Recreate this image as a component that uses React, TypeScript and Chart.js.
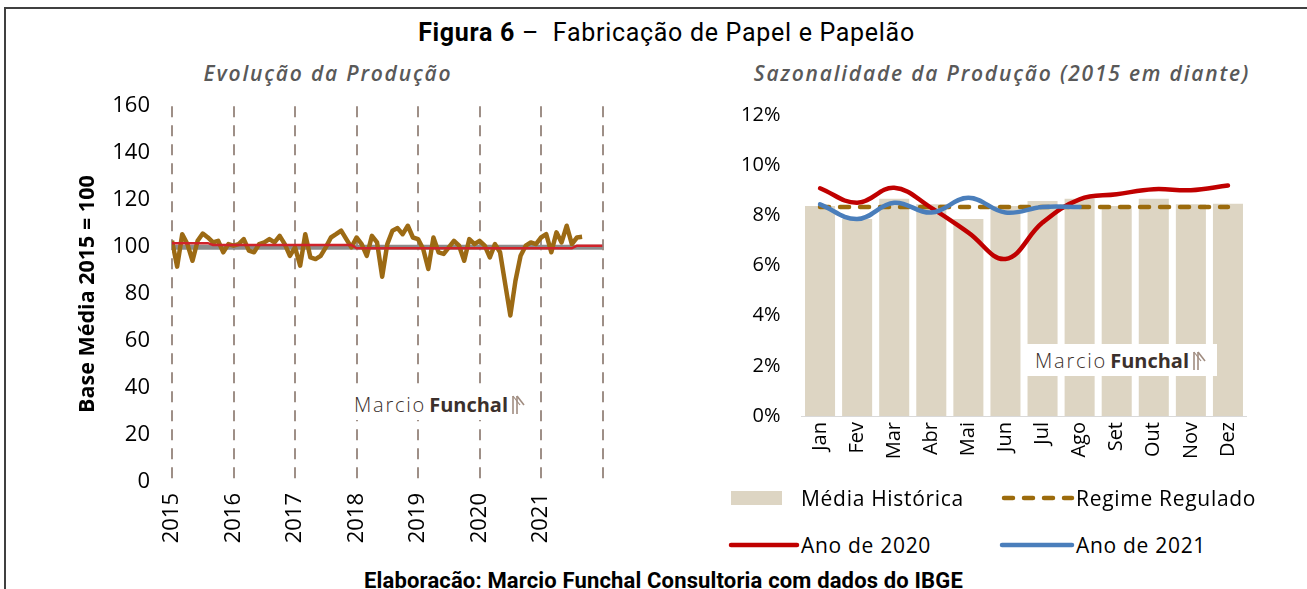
import React, { useEffect, useRef } from "react";
import { Chart, registerables } from "chart.js";

Chart.register(...registerables);

// ---------- Left chart data (monthly index, Jan 2015 = 0) ----------
const yearLabels = ["2015", "2016", "2017", "2018", "2019", "2020", "2021"];
const productionIndex = [
  102.7, 91.7, 105.5, 101.3, 94.2, 102.7, 105.8, 104.1, 102.0, 102.7, 97.8, 101.3,
  100.6, 101.3, 103.4, 98.5, 97.8, 101.3, 102.0, 103.4, 102.0, 104.8, 101.3, 96.3,
  99.9, 92.1, 105.5, 95.6, 94.9, 96.3, 99.9, 104.1, 105.5, 107.0, 103.4, 99.9,
  104.1, 101.3, 96.3, 104.8, 102.0, 87.4, 101.3, 107.0, 108.1, 105.5, 109.1, 104.1,
  103.4, 99.2, 90.7, 104.1, 97.8, 97.1, 99.9, 102.7, 100.6, 94.2, 103.4, 101.3,
  102.7, 100.6, 95.6, 101.3, 97.8, 84.3, 70.9, 85.7, 96.3, 100.6, 102.0, 101.3,
  104.1, 105.5, 97.8, 106.3, 102.0, 109.1, 101.3, 104.1, 104.4,
];
const referenceMonths = [0, 7, 8, 35, 36, 78, 79, 84];
const referenceValues = [101.7, 101.7, 100.9, 100.9, 99.5, 99.5, 100.6, 100.6];
const baseMonths = [0, 84];
const baseValues = [100, 100];

// ---------- Right chart data ----------
const months = ["Jan", "Fev", "Mar", "Abr", "Mai", "Jun", "Jul", "Ago", "Set", "Out", "Nov", "Dez"];
const historicalAvg = [8.37, 7.85, 8.66, 8.44, 7.85, 8.37, 8.57, 8.66, 8.37, 8.66, 8.44, 8.46];
const regulatedRegime = [8.33, 8.33, 8.33, 8.33, 8.33, 8.33, 8.33, 8.33, 8.33, 8.33, 8.33, 8.33];
const year2020 = [9.08, 8.5, 9.1, 8.3, 7.31, 6.26, 7.71, 8.64, 8.84, 9.04, 9.0, 9.19];
const year2021 = [8.44, 7.85, 8.5, 8.11, 8.7, 8.11, 8.33, 8.33];

const TICK_FONT = "'Open Sans', sans-serif";
const TITLE_FONT = "Roboto, sans-serif";

function LeftChart() {
  const ref = useRef<HTMLCanvasElement>(null);
  useEffect(() => {
    const chart = new Chart(ref.current!, {
      type: "line",
      data: {
        datasets: [
          {
            label: "Referência",
            data: referenceMonths.map((m, i) => ({ x: m, y: referenceValues[i] })),
            borderColor: "#d0222a",
            borderWidth: 2.5,
            pointRadius: 0,
          },
          {
            label: "Produção",
            data: productionIndex.map((v, i) => ({ x: i, y: v })),
            borderColor: "#9c6a14",
            borderWidth: 4.5,
            pointRadius: 0,
            borderJoinStyle: "round",
          },
          {
            label: "Base",
            data: baseMonths.map((m, i) => ({ x: m, y: baseValues[i] })),
            borderColor: "#8c8c8c",
            borderWidth: 5,
            pointRadius: 0,
          },
        ],
      },
      options: {
        responsive: false,
        animation: false,
        devicePixelRatio: 1,
        layout: { padding: { left: 0, right: 30, top: 0, bottom: 0 } },
        plugins: { legend: { display: false }, tooltip: { enabled: false } },
        scales: {
          x: {
            type: "linear",
            min: 0,
            max: 84,
            ticks: {
              stepSize: 12,
              autoSkip: false,
              minRotation: 90,
              maxRotation: 90,
              padding: 11,
              color: "#000",
              font: { family: TICK_FONT, size: 22 },
              callback: (v: any) => yearLabels[Math.round(Number(v) / 12)] ?? "",
            },
            grid: { color: "#9e8f87", lineWidth: 2, drawTicks: false },
            border: { display: false, dash: [11, 8] },
            afterFit: (s: any) => {
              s.height = 83;
            },
          },
          y: {
            min: 0,
            max: 160,
            ticks: {
              stepSize: 20,
              padding: 22,
              color: "#000",
              font: { family: TICK_FONT, size: 22 },
            },
            grid: { display: false, drawTicks: false },
            border: { display: false },
            title: {
              display: true,
              text: "Base Média 2015 = 100",
              color: "#000",
              font: { family: TICK_FONT, size: 21.5, weight: "bold" },
              padding: { top: 15, bottom: 0 },
            },
            afterFit: (s: any) => {
              s.width = 112;
            },
          },
        },
      },
    } as any);
    return () => chart.destroy();
  }, []);
  return <canvas ref={ref} width={580} height={494} style={{ position: "absolute", left: 60, top: 71 }} />;
}

function RightChart() {
  const ref = useRef<HTMLCanvasElement>(null);
  useEffect(() => {
    const chart = new Chart(ref.current!, {
      type: "bar",
      data: {
        labels: months,
        datasets: [
          {
            type: "line",
            label: "Ano de 2021",
            data: year2021,
            borderColor: "#4a7ebb",
            borderWidth: 4.5,
            tension: 0.4,
            pointRadius: 0,
            borderCapStyle: "round",
            order: 0,
          },
          {
            type: "line",
            label: "Ano de 2020",
            data: year2020,
            borderColor: "#c00000",
            borderWidth: 4.5,
            tension: 0.4,
            pointRadius: 0,
            borderCapStyle: "round",
            order: 1,
          },
          {
            type: "line",
            label: "Regime Regulado",
            data: regulatedRegime,
            borderColor: "#9c6b0c",
            borderWidth: 4.5,
            borderDash: [9, 11],
            borderCapStyle: "round",
            pointRadius: 0,
            order: 2,
          },
          {
            type: "bar",
            label: "Média Histórica",
            data: historicalAvg,
            backgroundColor: "#ddd5c3",
            barPercentage: 0.81,
            categoryPercentage: 1,
            order: 3,
          },
        ],
      },
      options: {
        responsive: false,
        animation: false,
        devicePixelRatio: 1,
        layout: { padding: { left: 0, right: 13.5, top: 0, bottom: 0 } },
        plugins: { legend: { display: false }, tooltip: { enabled: false } },
        scales: {
          x: {
            ticks: {
              autoSkip: false,
              minRotation: 90,
              maxRotation: 90,
              padding: 6,
              color: "#000",
              font: { family: TICK_FONT, size: 20 },
            },
            grid: { display: false, drawTicks: false },
            border: { display: true, color: "#d9d9d9", width: 1 },
            afterFit: (s: any) => {
              s.height = 79;
            },
          },
          y: {
            min: 0,
            max: 12,
            ticks: {
              stepSize: 2,
              padding: 21,
              color: "#000",
              font: { family: TICK_FONT, size: 20 },
              callback: (v: any) => `${v}%`,
            },
            grid: { display: false, drawTicks: false },
            border: { display: false },
            afterFit: (s: any) => {
              s.width = 111.5;
            },
          },
        },
      },
    } as any);
    return () => chart.destroy();
  }, []);
  return <canvas ref={ref} width={570} height={413} style={{ position: "absolute", left: 690, top: 82 }} />;
}

function Watermark({ left, top }: { left: number; top: number }) {
  return (
    <div
      style={{
        position: "absolute",
        left,
        top,
        width: 192,
        height: 32,
        background: "#fff",
        display: "flex",
        alignItems: "center",
        justifyContent: "center",
        color: "#3b302c",
        fontFamily: TICK_FONT,
        fontSize: 20,
        whiteSpace: "nowrap",
      }}
    >
      <span style={{ fontWeight: 300, letterSpacing: 1.8 }}>Marcio</span>
      <span style={{ fontWeight: 700, marginLeft: 3 }}>Funchal</span>
      <svg width="16" height="22" style={{ marginLeft: 2 }}>
        <line x1="3" y1="3" x2="3" y2="21" stroke="#a08c80" strokeWidth="1.6" />
        <line x1="7" y1="3" x2="7" y2="21" stroke="#a08c80" strokeWidth="1.6" />
        <line x1="7" y1="3" x2="14" y2="12" stroke="#a08c80" strokeWidth="1.6" />
        <line x1="3" y1="3" x2="10" y2="12" stroke="#a08c80" strokeWidth="1.2" />
      </svg>
    </div>
  );
}

const legendText: React.CSSProperties = {
  position: "absolute",
  fontFamily: TICK_FONT,
  fontSize: 21,
  letterSpacing: 0.7,
  color: "#000",
  lineHeight: "26px",
  whiteSpace: "nowrap",
};

const subtitle: React.CSSProperties = {
  position: "absolute",
  top: 59,
  textAlign: "center",
  fontFamily: TICK_FONT,
  fontStyle: "italic",
  fontWeight: 600,
  fontSize: 21,
  letterSpacing: 1.8,
  lineHeight: "28px",
  color: "#595959",
  whiteSpace: "nowrap",
};

export default function App() {
  return (
    <div
      style={{
        position: "fixed",
        left: 0,
        top: 0,
        width: 1307,
        height: 589,
        background: "#fff",
        overflow: "hidden",
      }}
    >
      <div
        style={{
          position: "absolute",
          left: 4,
          top: 7,
          width: 1330,
          height: 700,
          border: "2px solid #404040",
        }}
      />
      <div
        style={{
          position: "absolute",
          left: 0,
          top: 17,
          width: 1333,
          textAlign: "center",
          fontFamily: TITLE_FONT,
          fontSize: 25,
          letterSpacing: 0.7,
          lineHeight: "32px",
          color: "#000",
          whiteSpace: "nowrap",
        }}
      >
        <b>Figura 6</b> –&nbsp; Fabricação de Papel e Papelão
      </div>
      <div style={{ ...subtitle, left: 128, width: 400 }}>Evolução da Produção</div>
      <div style={{ ...subtitle, left: 702, width: 600 }}>Sazonalidade da Produção (2015 em diante)</div>

      <LeftChart />
      <RightChart />

      <Watermark left={344} top={388} />
      <Watermark left={1025} top={344} />

      {/* Legend */}
      <div style={{ position: "absolute", left: 731, top: 491, width: 51, height: 14, background: "#ddd5c3" }} />
      <div style={{ ...legendText, left: 801, top: 485 }}>Média Histórica</div>
      <svg style={{ position: "absolute", left: 1000, top: 492 }} width="76" height="12">
        <line x1="4" y1="6" x2="72" y2="6" stroke="#9c6b0c" strokeWidth="4.5" strokeDasharray="9 11" strokeLinecap="round" />
      </svg>
      <div style={{ ...legendText, left: 1076, top: 485 }}>Regime Regulado</div>
      <svg style={{ position: "absolute", left: 727, top: 539 }} width="74" height="12">
        <line x1="4" y1="6" x2="70" y2="6" stroke="#c00000" strokeWidth="4.5" strokeLinecap="round" />
      </svg>
      <div style={{ ...legendText, left: 801, top: 532 }}>Ano de 2020</div>
      <svg style={{ position: "absolute", left: 998, top: 539 }} width="78" height="12">
        <line x1="4" y1="6" x2="74" y2="6" stroke="#4a7ebb" strokeWidth="4.5" strokeLinecap="round" />
      </svg>
      <div style={{ ...legendText, left: 1076, top: 532 }}>Ano de 2021</div>

      <div
        style={{
          position: "absolute",
          left: 0,
          top: 568,
          width: 1327,
          textAlign: "center",
          fontFamily: TITLE_FONT,
          fontWeight: 700,
          fontSize: 22,
          letterSpacing: 0.15,
          lineHeight: "26px",
          color: "#000",
          whiteSpace: "nowrap",
        }}
      >
        Elaboracão: Marcio Funchal Consultoria com dados do IBGE
      </div>
    </div>
  );
}
